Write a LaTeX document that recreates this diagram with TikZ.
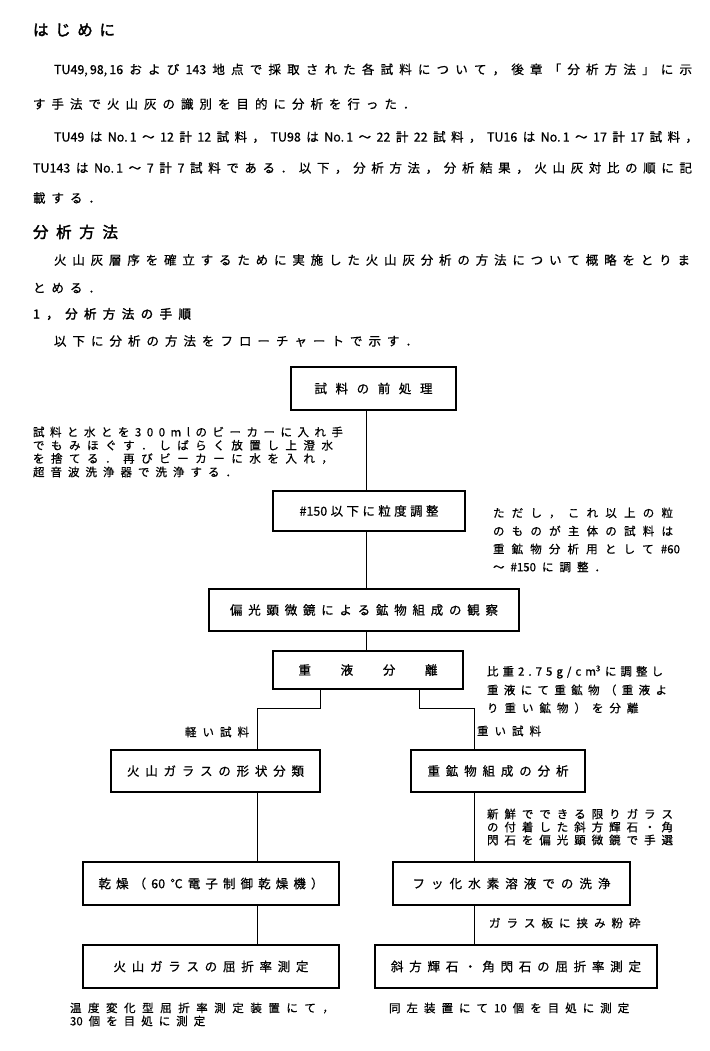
\documentclass[tikz,border=0pt]{standalone}
\usepackage{fontspec}
\setmainfont{Noto Sans CJK JP}[FakeBold=0.6]
\newfontfamily\hdfont{Noto Sans CJK JP}[FakeBold=2.2]
\newskip\cjkgap
\cjkgap=6pt plus 1fil minus 4pt
\ExplSyntaxOn
\cs_new_protected:Npn \lsp #1 { \tl_map_inline:nn {#1} { ##1 \hskip\cjkgap } \unskip }
\ExplSyntaxOff
\newcommand\jl[2]{\hbox to #1{\lsp{#2}}}
\newcommand\jn[1]{\hbox{\lsp{#1}}}
\tikzset{
  every node/.style={inner sep=0pt, outer sep=0pt},
  box/.style={draw, line width=1.3pt, font=\fontsize{12.5}{14}\selectfont},
  conn/.style={line width=1pt},
  pt/.style={font=\fontsize{12.5}{14}\selectfont, anchor=west},
  nt/.style={font=\fontsize{11.5}{13}\selectfont, anchor=west},
  hd/.style={font=\fontsize{15.5}{18}\hdfont, anchor=west},
}
\begin{document}
\begin{tikzpicture}[x=1pt,y=-1pt]
\useasboundingbox (0,0) rectangle (709,1051);
\fill[white] (0,0) rectangle (709,1051);
% ---------- text ----------
\node[hd] (h1) at (33,30) {\jl{82pt}{はじめに}};
\node[pt] (p1) at (54,70) {\jl{638pt}{{TU49,\,98,\,16}および{143}地点で採取された各試料について，後章「分析方法」に示}};
\node[pt] (p2) at (33,104) {\jn{す手法で火山灰の識別を目的に分析を行った．}};
\node[pt] (p3) at (54,137) {\jl{644pt}{{TU49}は{No.\,1}～{12}計{12}試料，{TU98}は{No.\,1}～{22}計{22}試料，{TU16}は{No.\,1}～{17}計{17}試料，}};
\node[pt] (p4) at (33,168) {\jl{659pt}{{TU143}は{No.\,1}～{7}計{7}試料である．以下，分析方法，分析結果，火山灰対比の順に記}};
\node[pt] (p5) at (33,198) {\jn{載する．}};
\node[hd] (h2) at (33,232) {\jl{85pt}{分析方法}};
\node[pt] (q1) at (54,260) {\jl{636pt}{火山灰層序を確立するために実施した火山灰分析の方法について概略をとりま}};
\node[pt] (q2) at (33,288) {\jn{とめる．}};
\node[hd, font=\fontsize{12.5}{14}\hdfont] (h3) at (33,314) {\jl{158pt}{1，分析方法の手順}};
\node[pt] (q3) at (54,341) {\jn{以下に分析の方法をフローチャートで示す．}};
% ---------- boxes ----------
\node[box, minimum width=165pt, minimum height=43pt] (b1) at (373.5,388.5) {\jl{118pt}{試料の前処理}};
\node[box, minimum width=192pt, minimum height=40pt] (b2) at (369,511) {\jl{139pt}{{\#150}以下に粒度調整}};
\node[box, minimum width=310pt, minimum height=42pt] (b3) at (364,610) {\jl{268pt}{偏光顕微鏡による鉱物組成の観察}};
\node[box, minimum width=190pt, minimum height=38pt] (b4) at (368,670) {\hbox to 139pt{重\hfill 液\hfill 分\hfill 離}};
\node[box, minimum width=209pt, minimum height=42pt] (b5) at (215.5,771) {\jl{177pt}{火山ガラスの形状分類}};
\node[box, minimum width=174pt, minimum height=42pt] (b6) at (498,771) {\jl{141pt}{重鉱物組成の分析}};
\node[box, minimum width=256pt, minimum height=43pt] (b7) at (211,883.5) {\jl{225pt}{乾燥（{60}℃電子制御乾燥機）}};
\node[box, minimum width=237pt, minimum height=43pt] (b8) at (511.5,883.5) {\jl{198pt}{フッ化水素溶液での洗浄}};
\node[box, minimum width=256pt, minimum height=43pt] (b9) at (211,966.5) {\jl{195pt}{火山ガラスの屈折率測定}};
\node[box, minimum width=282pt, minimum height=43pt] (b10) at (516,966.5) {\jl{250pt}{斜方輝石・角閃石の屈折率測定}};
% ---------- notes ----------
\node[nt] (n1a) at (33,432) {\jl{310pt}{試料と水とを300mlのビーカーに入れ手}};
\node[nt] (n1b) at (33,445.3) {\jl{300pt}{でもみほぐす．しばらく放置し上澄水}};
\node[nt] (n1c) at (33,458.6) {\jl{300pt}{を捨てる．再びビーカーに水を入れ，}};
\node[nt] (n1d) at (33,472) {\jn{超音波洗浄器で洗浄する．}};
\node[nt] (n2a) at (493,513) {\jl{180pt}{ただし，これ以上の粒}};
\node[nt] (n2b) at (493,531) {\jl{180pt}{のものが主体の試料は}};
\node[nt] (n2c) at (493,549) {\jl{187pt}{重鉱物分析用として{\#60}}};
\node[nt] (n2d) at (493,567) {\jn{～{\#150}に調整．}};
\node[nt] (n3a) at (487,672) {\jl{176pt}{比重2.75g/c{m\textsuperscript{3}}に調整し}};
\node[nt] (n3b) at (487,690) {\jl{180pt}{重液にて重鉱物（重液よ}};
\node[nt] (n3c) at (487,708) {\jn{り重い鉱物）を分離}};
\node[nt, anchor=east] (lk) at (249,732) {\jn{軽い試料}};
\node[nt] (hv) at (477,731) {\jn{重い試料}};
\node[nt] (n4a) at (487,814) {\jl{186pt}{新鮮でできる限りガラス}};
\node[nt] (n4b) at (487,827) {\jl{186pt}{の付着した斜方輝石・角}};
\node[nt] (n4c) at (487,840) {\jl{186pt}{閃石を偏光顕微鏡で手選}};
\node[nt] (n5) at (489,923) {\jn{ガラス板に挟み粉砕}};
\node[nt] (n6a) at (70,1008) {\jl{264pt}{温度変化型屈折率測定装置にて，}};
\node[nt] (n6b) at (70,1021) {\jn{{30}個を目処に測定}};
\node[nt] (n7) at (389,1008) {\jn{同左装置にて{10}個を目処に測定}};
% ---------- connectors ----------
\coordinate (tm) at (366,0);
\coordinate (tl) at (320,0);
\coordinate (tll) at (257,0);
\coordinate (tr) at (419,0);
\coordinate (trr) at (474,0);
\coordinate (ey) at (0,708);
\draw[conn] (b1.south -| tm) -- (b2.north -| tm);
\draw[conn] (b2.south -| tm) -- (b3.north -| tm);
\draw[conn] (b3.south -| tm) -- (b4.north -| tm);
\draw[conn] (b4.south -| tl) -- (tl |- ey) -- (tll |- ey) -- (b5.north -| tll);
\draw[conn] (b4.south -| tr) -- (tr |- ey) -- (trr |- ey) -- (b6.north -| trr);
\draw[conn] (b5.south -| tll) -- (b7.north -| tll);
\draw[conn] (b7.south -| tll) -- (b9.north -| tll);
\draw[conn] (b6.south -| trr) -- (b8.north -| trr);
\draw[conn] (b8.south -| trr) -- (b10.north -| trr);
\end{tikzpicture}
\end{document}
